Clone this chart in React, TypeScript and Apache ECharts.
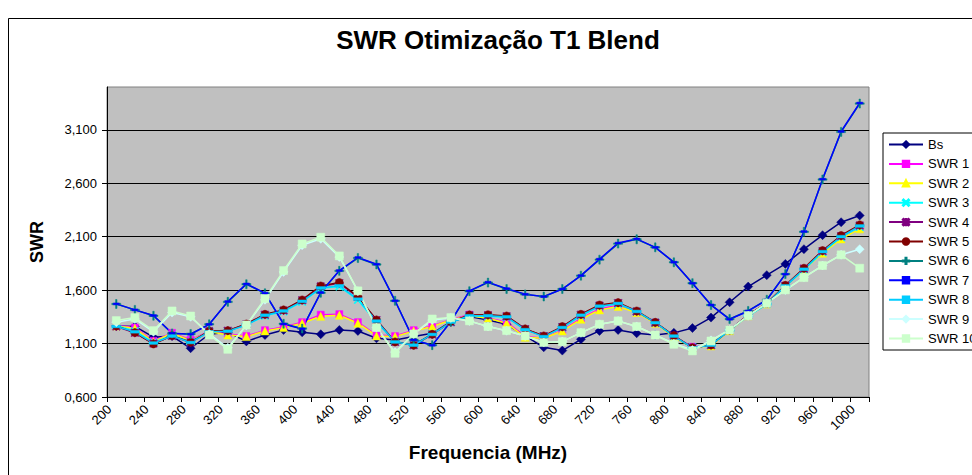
import React, { useEffect, useRef } from 'react';
import * as echarts from 'echarts';

const FREQS = ['200','220','240','260','280','300','320','340','360','380','400','420','440','460','480','500','520','540','560','580','600','620','640','660','680','700','720','740','760','780','800','820','840','860','880','900','920','940','960','980','1000'];
const Y_TICKS = [0.6, 1.1, 1.6, 2.1, 2.6, 3.1];
const Y_MIN = 0.6;
const Y_MAX = 3.5;

const BS = [1.265,1.26,1.16,1.17,1.056,1.187,1.205,1.12,1.18,1.227,1.205,1.187,1.227,1.218,1.149,1.134,1.165,1.196,1.305,1.352,1.321,1.28,1.171,1.065,1.034,1.14,1.218,1.227,1.196,1.18,1.2,1.245,1.343,1.486,1.633,1.74,1.845,1.983,2.114,2.235,2.298];
const SWR1 = [1.27,1.25,1.125,1.2,1.135,1.215,1.19,1.17,1.225,1.255,1.3,1.37,1.375,1.3,1.18,1.17,1.225,1.265,1.325,1.37,1.34,1.3,1.165,1.15,1.225,1.335,1.425,1.455,1.395,1.295,1.165,1.07,1.08,1.225,1.365,1.475,1.64,1.8,1.955,2.09,2.19];
const SWR2 = [1.265,1.243,1.118,1.196,1.127,1.212,1.18,1.165,1.218,1.249,1.29,1.355,1.365,1.29,1.171,1.165,1.218,1.259,1.321,1.36,1.337,1.29,1.159,1.149,1.218,1.327,1.415,1.446,1.39,1.29,1.159,1.065,1.078,1.22,1.36,1.47,1.635,1.79,1.945,2.079,2.173];
const SWR3 = [1.27,1.215,1.11,1.175,1.115,1.215,1.215,1.275,1.36,1.4,1.49,1.617,1.633,1.508,1.3,1.12,1.09,1.19,1.3,1.36,1.355,1.345,1.23,1.17,1.25,1.36,1.45,1.47,1.4,1.295,1.17,1.065,1.09,1.225,1.36,1.47,1.635,1.79,1.955,2.095,2.19];
const SWR4 = [1.26,1.2,1.1,1.17,1.11,1.215,1.22,1.28,1.37,1.41,1.505,1.635,1.665,1.535,1.32,1.115,1.085,1.185,1.3,1.365,1.365,1.355,1.235,1.17,1.255,1.37,1.455,1.48,1.4,1.295,1.175,1.06,1.085,1.225,1.365,1.475,1.64,1.8,1.965,2.105,2.205];
const SWR5 = [1.265,1.202,1.096,1.174,1.112,1.218,1.221,1.283,1.374,1.415,1.508,1.639,1.671,1.539,1.321,1.115,1.084,1.187,1.305,1.368,1.37,1.358,1.237,1.171,1.259,1.374,1.461,1.483,1.405,1.299,1.175,1.06,1.087,1.227,1.368,1.477,1.645,1.805,1.97,2.111,2.21];
const SWR6 = [1.47,1.415,1.36,1.195,1.19,1.28,1.49,1.655,1.57,1.285,1.24,1.575,1.78,1.9,1.84,1.5,1.135,1.085,1.305,1.59,1.67,1.61,1.56,1.54,1.61,1.735,1.885,2.035,2.075,2.0,1.86,1.665,1.46,1.33,1.405,1.51,1.75,2.145,2.635,3.08,3.345];
const SWR7 = [1.471,1.415,1.362,1.196,1.187,1.28,1.493,1.658,1.571,1.283,1.237,1.577,1.783,1.905,1.842,1.5,1.134,1.084,1.305,1.593,1.674,1.614,1.561,1.539,1.61,1.736,1.89,2.04,2.079,2.0,1.861,1.664,1.461,1.327,1.405,1.508,1.749,2.148,2.638,3.084,3.35];
const SWR8 = [1.26,1.21,1.105,1.17,1.11,1.21,1.215,1.275,1.365,1.405,1.495,1.62,1.64,1.515,1.31,1.115,1.085,1.185,1.3,1.36,1.36,1.35,1.23,1.165,1.25,1.365,1.45,1.475,1.4,1.295,1.17,1.06,1.085,1.225,1.36,1.47,1.64,1.795,1.96,2.1,2.2];
const SWR9 = [1.3,1.33,1.21,1.39,1.35,1.19,1.06,1.27,1.51,1.77,2.02,2.08,1.91,1.59,1.25,1.02,1.19,1.32,1.34,1.31,1.26,1.22,1.17,1.11,1.12,1.2,1.28,1.31,1.26,1.18,1.1,1.04,1.13,1.23,1.36,1.48,1.6,1.72,1.83,1.93,1.983];
const SWR10 = [1.315,1.343,1.221,1.405,1.358,1.18,1.046,1.274,1.521,1.783,2.032,2.095,1.92,1.593,1.249,1.009,1.19,1.33,1.343,1.312,1.259,1.221,1.171,1.109,1.118,1.202,1.28,1.312,1.259,1.18,1.093,1.031,1.124,1.227,1.362,1.477,1.602,1.717,1.83,1.93,1.805];

const SERIES_NAMES = ['Bs','SWR 1','SWR 2','SWR 3','SWR 4','SWR 5','SWR 6','SWR 7','SWR 8','SWR 9','SWR 10'];
const SERIES_DATA = [BS, SWR1, SWR2, SWR3, SWR4, SWR5, SWR6, SWR7, SWR8, SWR9, SWR10];

const X_PATH = 'path://M1.1,0L5,3.9L8.9,0L10,1.1L6.1,5L10,8.9L8.9,10L5,6.1L1.1,10L0,8.9L3.9,5L0,1.1Z';
const PLUS_PATH = 'path://M4.2,0h1.6v4.2h4.2v1.6h-4.2v4.2h-1.6v-4.2h-4.2v-1.6h4.2Z';
const STAR_PATH = 'path://M4.3,0h1.4v4.3h4.3v1.4h-4.3v4.3h-1.4v-4.3h-4.3v-1.4h4.3Z M1,0L5,4L9,0L10,1L6,5L10,9L9,10L5,6L1,10L0,9L4,5L0,1Z';
const DASH_PATH = 'path://M0,0h10v3h-10Z';

const STYLES = [
  { color: '#000080', symbol: 'diamond', size: 9 },
  { color: '#FF00FF', symbol: 'rect', size: 7 },
  { color: '#FFFF00', symbol: 'triangle', size: 8 },
  { color: '#00FFFF', symbol: X_PATH, size: 8 },
  { color: '#800080', symbol: STAR_PATH, size: 8 },
  { color: '#800000', symbol: 'circle', size: 8 },
  { color: '#008080', symbol: PLUS_PATH, size: 9 },
  { color: '#0000FF', symbol: DASH_PATH, size: 6 },
  { color: '#00CCFF', symbol: DASH_PATH, size: 9 },
  { color: '#CCFFFF', symbol: 'diamond', size: 9 },
  { color: '#CCFFCC', symbol: 'rect', size: 8 },
];

const FONT = '"Liberation Sans", Arial, sans-serif';

export default function App() {
  const ref = useRef<HTMLDivElement>(null);
  useEffect(() => {
    if (!ref.current) return;
    const chart = echarts.init(ref.current, undefined, { renderer: 'svg' });
    const series = SERIES_NAMES.map((name, i) => ({
      name,
      type: 'line',
      data: SERIES_DATA[i],
      symbol: STYLES[i].symbol,
      symbolSize: STYLES[i].size,
      symbolKeepAspect: true,
      showSymbol: true,
      lineStyle: { color: STYLES[i].color, width: 1.5 },
      itemStyle: { color: STYLES[i].color, borderColor: STYLES[i].color, borderWidth: 0.5 },
      emphasis: { disabled: true },
    }));
    chart.setOption({
      animation: false,
      textStyle: { fontFamily: FONT },
      graphic: [
        {
          type: 'rect',
          shape: { x: 8.5, y: 18.5, width: 1000, height: 500 },
          style: { fill: 'none', stroke: '#000', lineWidth: 1 },
          silent: true,
        },
      ],
      title: {
        text: 'SWR Otimização T1 Blend',
        left: 498,
        top: 27,
        textAlign: 'center',
        padding: 0,
        textStyle: { fontSize: 26, fontWeight: 'bold', color: '#000', fontFamily: FONT },
      },
      legend: {
        orient: 'vertical',
        left: 883,
        top: 133,
        padding: [5, 5, 5, 5],
        itemWidth: 34,
        itemHeight: 8,
        itemGap: 6.4,
        backgroundColor: '#FFFFFF',
        borderColor: '#000',
        borderWidth: 1,
        borderRadius: 0,
        textStyle: { fontSize: 13, color: '#000', fontFamily: FONT },
        data: SERIES_NAMES,
      },
      grid: {
        left: 107,
        right: 103,
        top: 87,
        bottom: 78,
        show: true,
        backgroundColor: '#C0C0C0',
        borderColor: '#808080',
        borderWidth: 1,
      },
      xAxis: {
        type: 'category',
        data: FREQS,
        boundaryGap: true,
        name: 'Frequencia (MHz)',
        nameLocation: 'middle',
        nameGap: 46,
        nameTextStyle: { fontSize: 19, fontWeight: 'bold', color: '#000', fontFamily: FONT },
        axisLine: { show: true, lineStyle: { color: '#000', width: 1 } },
        axisTick: { show: true, interval: 0, length: 5, lineStyle: { color: '#000' } },
        axisLabel: {
          interval: 1,
          rotate: 45,
          fontSize: 13,
          color: '#000',
          margin: 3,
          padding: [0, 10, 0, 0],
          fontFamily: FONT,
        },
        splitLine: { show: false },
      },
      yAxis: {
        type: 'value',
        min: Y_MIN,
        max: Y_MAX,
        name: 'SWR',
        nameLocation: 'middle',
        nameRotate: 90,
        nameGap: 61,
        nameTextStyle: { fontSize: 18, fontWeight: 'bold', color: '#000', fontFamily: FONT },
        axisLine: { show: true, lineStyle: { color: '#000', width: 1 } },
        axisTick: { show: true, length: 5, lineStyle: { color: '#000' }, customValues: Y_TICKS },
        axisLabel: {
          fontSize: 13,
          color: '#000',
          margin: 10,
          fontFamily: FONT,
          customValues: Y_TICKS,
          formatter: (v: number) => v.toFixed(3).replace('.', ','),
        },
        splitLine: { show: true, lineStyle: { color: '#000', width: 1 } },
      },
      series,
    });
    return () => chart.dispose();
  }, []);
  return (
    <div
      ref={ref}
      style={{ position: 'fixed', left: 0, top: 0, width: 972, height: 475, background: '#fff' }}
    />
  );
}
